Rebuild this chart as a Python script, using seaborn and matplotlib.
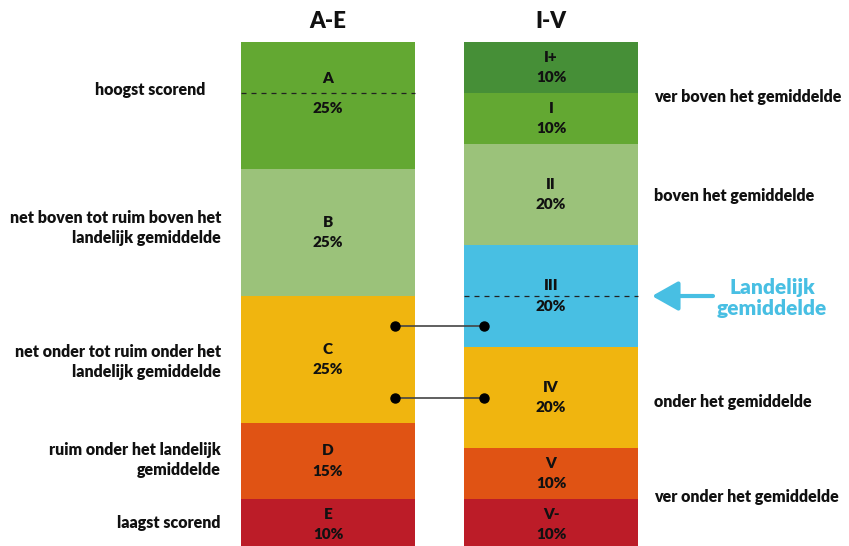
import matplotlib
matplotlib.use("Agg")
import matplotlib.pyplot as plt
import seaborn as sns
import numpy as np

# data
left_cats = ['A', 'B', 'C', 'D', 'E']
left_pct = [25, 25, 25, 15, 10]
left_colors = ['#63a832', '#9bc27a', '#f0b50f', '#e05314', '#bc1c28']

right_cats = ['I+', 'I', 'II', 'III', 'IV', 'V', 'V-']
right_pct = [10, 10, 20, 20, 20, 10, 10]
right_colors = ['#468f37', '#63a832', '#9bc27a', '#48bfe3', '#f0b50f', '#e05314', '#bc1c28']

left_notes = ['hoogst scorend',
              'net boven tot ruim boven het\nlandelijk gemiddelde',
              'net onder tot ruim onder het\nlandelijk gemiddelde',
              'ruim onder het landelijk\ngemiddelde',
              'laagst scorend']
left_note_y = [9.4, 36.6, 63.0, 82.3, 94.7]

right_notes = ['ver boven het gemiddelde', 'boven het gemiddelde',
               'onder het gemiddelde', 'ver onder het gemiddelde']
right_note_y = [10.8, 30.3, 70.9, 89.6]

avg_left = 10      # dashed line in A
avg_right = 50     # dashed line in III
links = [56.0, 70.0]

sns.set_style("white")
plt.rcParams['font.family'] = ['Lato', 'DejaVu Sans']

fig = plt.figure(figsize=(8.49, 5.46), dpi=100)
ax = fig.add_axes([0, 0, 1, 1])
ax.set_xlim(0, 849)
ax.set_ylim(99.21, -8.27)
ax.axis('off')

x_left, x_right, w = 328, 551, 174
ink = '#111111'


def stack(x, pct, colors):
    bottoms = np.concatenate([[0], np.cumsum(pct)[:-1]])
    ax.bar(x, pct, bottom=bottoms, width=w, color=colors, edgecolor='none')
    return bottoms


lb = stack(x_left, left_pct, left_colors)
rb = stack(x_right, right_pct, right_colors)

txt = dict(ha='center', va='center', fontsize=11, fontweight='heavy', color=ink)
for cat, p, b in zip(left_cats, left_pct, lb):
    c = b + p / 2
    if cat == 'A':
        ax.text(x_left, avg_left - 2.9, cat, **txt)
        ax.text(x_left, avg_left + 3.1, f'{p}%', **txt)
    else:
        ax.text(x_left, c - 2.0, cat, **txt)
        ax.text(x_left, c + 2.0, f'{p}%', **txt)
for cat, p, b in zip(right_cats, right_pct, rb):
    c = b + p / 2
    ax.text(x_right, c - 2.0, cat, **txt)
    ax.text(x_right, c + 2.0, f'{p}%', **txt)

# dashed average lines
ax.plot([x_left - w / 2, x_left + w / 2], [avg_left, avg_left], ls=(0, (4, 4)), color='#222222', lw=0.9)
ax.plot([x_right - w / 2, x_right + w / 2], [avg_right, avg_right], ls=(0, (4, 4)), color='#222222', lw=0.9)

# connectors
for y in links:
    ax.plot([395, 484], [y, y], color='#444444', lw=1.2, zorder=3)
    ax.plot([395, 484], [y, y], 'o', color='black', ms=6.5, zorder=4)

# titles
ax.text(x_left, -4.0, 'A-E', ha='center', va='center', fontsize=16, fontweight='heavy', color=ink)
ax.text(x_right, -4.0, 'I-V', ha='center', va='center', fontsize=16, fontweight='heavy', color=ink)

# side notes
for s, y in zip(left_notes, left_note_y):
    xr = 205 if s == 'hoogst scorend' else 221
    ax.text(xr, y, s, ha='right', va='center', fontsize=11.5, fontweight='heavy',
            color=ink, linespacing=1.3)
for s, y in zip(right_notes, right_note_y):
    ax.text(654, y, s, ha='left', va='center', fontsize=11.5, fontweight='heavy', color=ink)

# landelijk gemiddelde arrow
blue = '#48bfe3'
ax.annotate('', xy=(652, avg_right), xytext=(713, avg_right),
            arrowprops=dict(arrowstyle='-|>,head_length=1.6,head_width=0.9',
                            color=blue, lw=3, shrinkA=0, shrinkB=0))
ax.text(772, avg_right + 0.4, 'Landelijk\ngemiddelde', ha='center', va='center',
        fontsize=15, fontweight='heavy', color=blue, linespacing=1.1)

fig.savefig('out.png', dpi=100)
